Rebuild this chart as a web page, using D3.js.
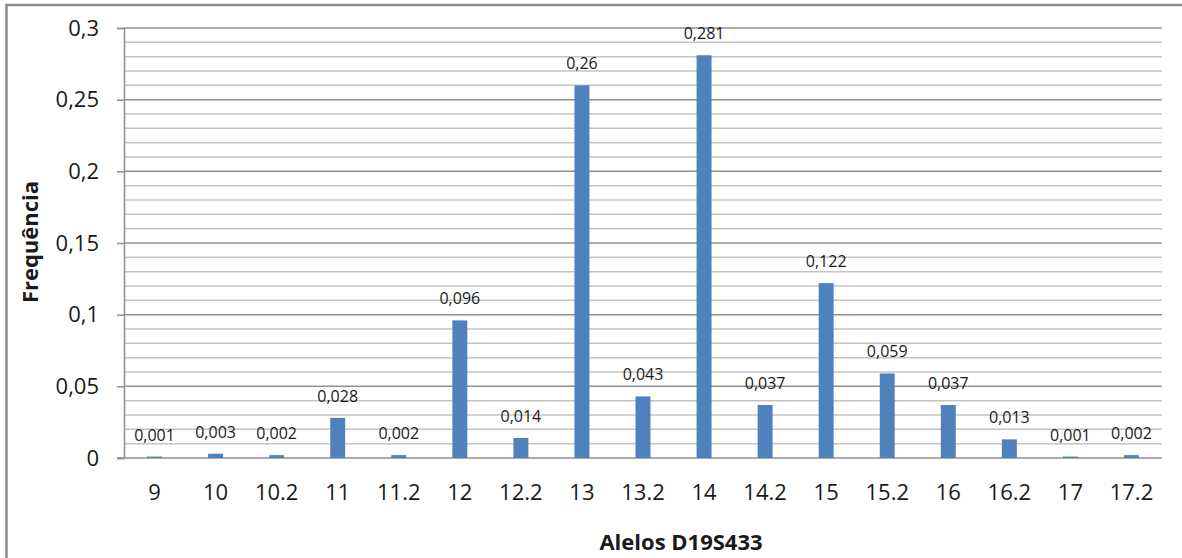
<!DOCTYPE html>
<html>
<head>
<meta charset="utf-8">
<script src="https://cdn.jsdelivr.net/npm/d3@7"></script>
<style>
  html, body { margin: 0; padding: 0; background: #fff; }
  svg { display: block; }
  text { font-family: "Open Sans", "Liberation Sans", sans-serif; fill: #1a1a1a; }
</style>
</head>
<body>
<svg id="chart" width="1182" height="558"></svg>
<script>
// Allele frequencies for locus D19S433
const alleles = ["9", "10", "10.2", "11", "11.2", "12", "12.2", "13", "13.2", "14", "14.2", "15", "15.2", "16", "16.2", "17", "17.2"];
const frequencies = [0.001, 0.003, 0.002, 0.028, 0.002, 0.096, 0.014, 0.26, 0.043, 0.281, 0.037, 0.122, 0.059, 0.037, 0.013, 0.001, 0.002];
const majorTicks = [0, 0.05, 0.1, 0.15, 0.2, 0.25, 0.3];
const minorTicks = d3.range(0, 0.3001, 0.01);

const svg = d3.select("#chart");
const W = 1182, H = 558;
const plot = { left: 124, right: 1162, top: 28, bottom: 458 };

// Outer frame
svg.append("rect")
  .attr("x", 6.5).attr("y", 5)
  .attr("width", W + 10).attr("height", H + 10)
  .attr("fill", "#fff")
  .attr("stroke", "#8c8c8c")
  .attr("stroke-width", 2.5);

const x = d3.scaleBand().domain(alleles).range([plot.left, plot.right]).padding(0);
const y = d3.scaleLinear().domain([0, 0.3]).range([plot.bottom, plot.top]);

const fmt = v => String(v).replace(".", ",");

// Minor gridlines
svg.append("g").selectAll("line")
  .data(minorTicks.filter(t => Math.round(t * 1000) % 50 !== 0))
  .join("line")
  .attr("x1", plot.left).attr("x2", plot.right)
  .attr("y1", d => y(d)).attr("y2", d => y(d))
  .attr("stroke", "#c4c4c4").attr("stroke-width", 1.5);

// Major gridlines
svg.append("g").selectAll("line")
  .data(majorTicks.filter(t => t > 0))
  .join("line")
  .attr("x1", plot.left).attr("x2", plot.right)
  .attr("y1", d => y(d)).attr("y2", d => y(d))
  .attr("stroke", "#8f8f8f").attr("stroke-width", 1.5);

// Y axis
const yAxis = svg.append("g")
  .attr("transform", `translate(${plot.left},0)`)
  .call(d3.axisLeft(y).tickValues(majorTicks).tickSize(7).tickPadding(18).tickFormat(fmt));
yAxis.select(".domain").attr("stroke", "#8f8f8f").attr("stroke-width", 1.5);
yAxis.selectAll(".tick line").attr("stroke", "#8f8f8f").attr("stroke-width", 1.5);
yAxis.selectAll(".tick text")
  .style("font-family", "'Open Sans', sans-serif")
  .attr("font-size", 22).attr("fill", "#1a1a1a");

// X axis
const xAxis = svg.append("g")
  .attr("transform", `translate(0,${plot.bottom})`)
  .call(d3.axisBottom(x).tickSize(0).tickPadding(0));
xAxis.select(".domain").remove();
xAxis.selectAll(".tick text")
  .attr("dy", null).attr("y", 42)
  .style("font-family", "'Open Sans', sans-serif")
  .attr("font-size", 22).attr("fill", "#1a1a1a");

// Baseline
svg.append("line")
  .attr("x1", plot.left - 7).attr("x2", plot.right)
  .attr("y1", y(0)).attr("y2", y(0))
  .attr("stroke", "#8f8f8f").attr("stroke-width", 1.5);

// Bars
const barW = x.bandwidth() * 0.245;
const data = alleles.map((a, i) => ({ allele: a, value: frequencies[i] }));
svg.append("g").selectAll("rect")
  .data(data)
  .join("rect")
  .attr("x", d => x(d.allele) + x.bandwidth() / 2 - barW / 2)
  .attr("y", d => y(d.value))
  .attr("width", barW)
  .attr("height", d => y(0) - y(d.value))
  .attr("fill", "#4f81bd");

// Value labels
svg.append("g").selectAll("text")
  .data(data)
  .join("text")
  .attr("x", d => x(d.allele) + x.bandwidth() / 2)
  .attr("y", d => y(d.value) - 16)
  .attr("text-anchor", "middle")
  .attr("font-size", 16)
  .text(d => fmt(d.value));

// Axis titles
svg.append("text")
  .attr("x", 681).attr("y", 550)
  .attr("text-anchor", "middle")
  .attr("font-size", 22).attr("font-weight", "bold")
  .text("Alelos D19S433");

svg.append("text")
  .attr("transform", "translate(38,242) rotate(-90)")
  .attr("text-anchor", "middle")
  .attr("font-size", 22).attr("font-weight", "bold")
  .text("Frequência");
</script>
</body>
</html>
